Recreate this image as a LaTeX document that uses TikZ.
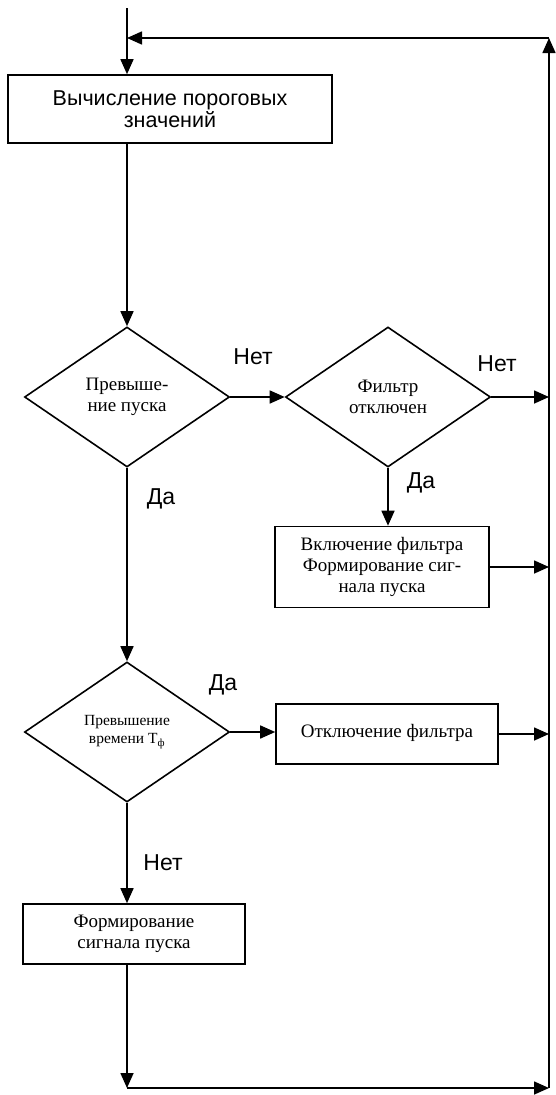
\documentclass[tikz,border=0pt]{standalone}
\usepackage{fontspec}
\setmainfont{Liberation Serif}
\setsansfont{Liberation Sans}
\usetikzlibrary{shapes.geometric,arrows.meta}
\begin{document}
\begin{tikzpicture}[x=1pt,y=-1pt,
  line width=1.6pt,
  arr/.style={-{Triangle[length=15pt,width=13pt]}},
  procbox/.style={draw,rectangle,inner sep=0pt,align=center,font=\fontsize{19}{21}\selectfont},
  decision/.style={draw,diamond,inner sep=0pt,minimum width=205pt,minimum height=140pt,align=center,font=\fontsize{19}{21}\selectfont},
  lbl/.style={font=\sffamily\fontsize{23}{25}\selectfont,inner sep=0pt}
]
\useasboundingbox (0,0) rectangle (555,1095);

\coordinate (start) at (127,8);
\coordinate (rt) at (549,38);
\coordinate (rb) at (549,1088);
\coordinate (bl) at (127,1088);

\node[procbox,minimum width=324pt,minimum height=68pt,font=\sffamily\fontsize{21.5}{22}\selectfont] (b1) at (170,109) {Вычисление пороговых\\значений};
\node[decision] (d1) at (127,397) {Превыше-\\ние пуска};
\node[decision] (d2) at (388,397) {Фильтр\\отключен};
\node[procbox,minimum width=214pt,minimum height=81pt] (b2) at (382,567) {Включение фильтра\\Формирование сиг-\\нала пуска};
\node[decision,font=\fontsize{15.5}{18}\selectfont] (d3) at (127,732) {Превышение\\времени Т\textsubscript{ф}};
\node[procbox,minimum width=222pt,minimum height=60pt] (b3) at (387,734) {\raisebox{7pt}{Отключение фильтра}};
\node[procbox,minimum width=222pt,minimum height=60pt] (b4) at (134,934) {Формирование\\сигнала пуска};

\draw[arr] (start) -- (start |- b1.north);
\draw[arr] (rb) -- (rt);
\draw[arr] (rt) -- (start |- rt);
\draw[arr] (b1.south -| d1.north) -- (d1.north);
\draw[arr] (d1.east) -- (d2.west);
\draw[arr] (d2.east) -- (d2.east -| rt);
\draw[arr] (d2.south) -- (d2.south |- b2.north);
\draw[arr] (b2.east) -- (b2.east -| rt);
\draw[arr] (d1.south) -- (d3.north);
\draw[arr] (d3.east) -- (d3.east -| b3.west);
\draw[arr] (b3.east) -- (b3.east -| rt);
\draw[arr] (d3.south) -- (d3.south |- b4.north);
\draw[arr] (b4.south -| d3.south) -- (bl);
\draw[arr] (bl) -- (rb);

\node[lbl] (n1) at (253,357) {Нет};
\node[lbl] (n2) at (497,364) {Нет};
\node[lbl] (y2) at (421,483) {Да};
\node[lbl] (y1) at (161,499) {Да};
\node[lbl] (y3) at (223,685) {Да};
\node[lbl] (n3) at (163,863) {Нет};
\end{tikzpicture}
\end{document}
